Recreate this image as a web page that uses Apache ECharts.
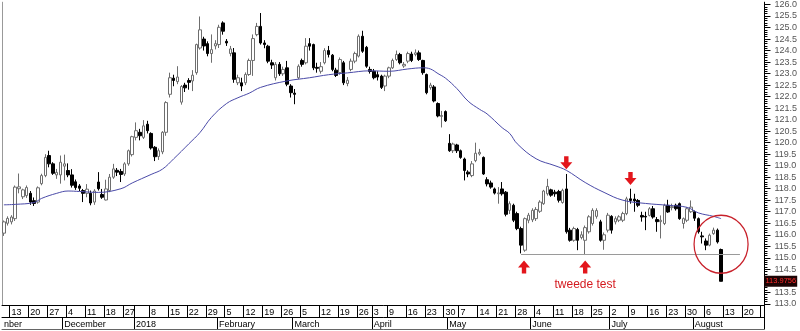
<!DOCTYPE html>
<html><head><meta charset="utf-8">
<script src="https://cdn.jsdelivr.net/npm/echarts@6/dist/echarts.min.js"></script>
<style>html,body{margin:0;padding:0;background:#fff}#c{width:800px;height:331px}</style>
</head><body><div id="c"></div>
<script>
// ---- data ----
const startDate = '2017-11-09';
const endDate = '2018-08-27';
const holidays = ['2017-12-25','2017-12-26','2018-01-01','2018-03-30','2018-04-02','2018-05-01'];
const monthNames = ['January','February','March','April','May','June','July','August','September','October','November','December'];

const opens = [116.07,116.50,116.56,116.70,118.00,117.65,117.70,117.80,117.48,117.42,118.22,118.57,119.44,119.08,118.60,118.60,118.98,118.79,118.60,118.30,118.12,117.92,117.80,117.80,117.42,118.29,117.75,117.51,117.92,118.50,118.80,118.75,118.64,119.08,119.48,120.23,120.45,120.23,120.80,120.40,119.80,119.40,119.60,120.45,122.10,122.80,122.65,121.76,122.50,122.70,122.68,123.04,124.11,124.50,124.30,123.87,124.20,124.26,125.20,124.40,123.87,123.90,122.60,122.60,122.60,122.96,123.57,124.69,125.05,124.33,124.19,123.47,122.82,123.40,122.99,123.25,122.46,122.15,122.82,123.57,123.47,124.30,124.26,123.27,123.10,123.47,124.00,123.80,123.15,123.04,123.47,122.57,123.18,123.54,123.76,124.62,124.14,123.18,123.10,122.95,122.89,122.46,122.89,123.25,123.61,123.83,123.33,123.54,123.85,123.83,123.90,123.57,122.96,122.39,122.42,121.70,121.14,121.35,119.97,119.65,119.90,119.65,119.29,118.72,118.57,119.22,119.51,119.36,118.39,118.25,117.99,117.78,117.99,117.85,117.06,117.28,116.92,116.27,115.33,116.63,116.65,116.70,117.02,117.35,117.78,117.95,117.85,117.88,117.40,117.99,116.20,115.76,116.23,115.88,115.76,116.13,116.49,116.80,116.56,115.76,116.20,116.80,116.56,116.63,116.63,116.92,117.56,117.55,117.49,116.84,116.80,116.84,117.13,116.66,116.57,116.49,117.28,117.18,117.28,117.35,116.49,116.63,117.00,117.00,116.70,115.95,115.73,115.55,116.05,116.20,115.36];
const closes = [116.56,116.71,116.77,118.07,118.08,117.95,118.05,117.42,117.36,118.04,118.57,119.36,119.08,118.67,118.71,119.15,119.08,118.60,118.15,118.05,118.02,117.80,117.98,117.38,117.90,118.00,117.63,117.99,118.50,118.86,118.72,118.62,119.08,119.65,120.26,120.52,120.30,120.73,120.52,119.77,119.39,119.65,120.45,121.74,122.82,122.70,122.85,122.44,122.38,122.62,122.93,124.26,124.90,124.20,123.87,124.04,124.30,125.01,124.84,124.33,124.07,122.75,122.82,122.46,122.96,123.57,124.52,125.05,124.33,124.26,123.54,123.37,123.40,122.99,123.18,122.54,122.17,122.10,123.32,123.40,124.19,124.19,123.25,123.23,123.30,124.00,123.83,123.18,122.92,123.61,122.60,122.71,123.54,123.87,124.62,123.97,123.32,123.09,122.82,122.85,122.40,122.89,123.25,123.57,123.83,123.47,123.40,123.87,123.57,123.90,123.61,123.04,122.17,122.50,121.81,121.16,121.18,120.95,119.65,119.94,119.65,119.36,118.79,118.64,119.08,119.54,119.58,118.64,118.21,118.07,117.81,117.82,117.78,116.89,117.35,116.63,116.27,115.55,116.70,116.85,117.06,117.10,117.42,117.90,118.10,117.72,117.78,117.50,117.93,116.13,115.76,116.27,115.76,116.00,116.31,116.78,117.06,117.05,115.76,116.00,116.85,116.20,116.70,116.78,116.92,117.56,117.49,117.47,117.28,116.77,116.77,117.13,116.77,116.57,116.63,117.28,116.99,117.22,117.13,116.70,116.70,117.13,117.20,116.72,116.13,115.91,115.55,115.98,116.20,115.69,113.98];
const lows = [115.95,116.40,116.45,116.60,117.80,117.55,117.60,117.30,117.25,117.35,118.15,118.50,118.93,118.60,118.43,118.22,118.36,118.50,118.05,117.95,117.90,117.42,117.63,117.28,117.30,117.92,117.56,117.49,117.85,118.43,118.55,118.29,118.55,119.00,119.40,120.10,120.10,120.16,120.40,119.70,119.20,119.25,119.50,120.30,121.96,122.45,122.54,121.65,122.20,122.30,122.24,122.95,124.04,124.00,123.75,123.47,124.05,124.11,124.69,124.20,123.75,122.60,122.50,122.24,122.50,122.90,122.90,124.62,124.26,124.10,123.45,123.20,122.70,122.90,122.90,122.45,121.96,121.67,122.75,123.30,123.40,124.00,123.15,123.04,123.00,123.40,123.70,123.10,122.85,122.95,122.50,122.45,123.10,123.45,123.70,123.90,123.25,123.00,122.75,122.70,122.33,122.24,122.80,123.20,123.55,123.40,123.25,123.45,123.50,123.75,123.55,122.95,122.10,122.30,121.75,121.10,120.66,120.90,119.60,119.55,119.55,119.30,118.36,118.50,118.50,119.15,119.44,118.60,118.10,118.00,117.75,117.35,117.70,116.80,116.90,116.55,116.20,115.19,115.26,116.50,116.55,116.60,116.95,117.30,117.70,117.65,117.65,117.40,117.35,116.05,115.70,115.70,115.33,115.80,115.12,116.05,116.40,116.70,115.70,115.35,116.10,116.05,116.45,116.55,116.55,116.85,117.35,117.00,117.20,116.57,116.20,116.80,116.70,116.13,115.84,116.42,116.95,117.06,117.05,116.65,116.27,116.55,116.95,116.60,116.05,115.62,115.33,115.50,116.00,115.62,113.98];
const highs = [116.62,116.80,116.85,118.14,118.66,118.00,118.14,117.90,117.62,118.10,118.65,119.50,119.65,119.15,118.86,119.44,119.48,119.10,118.85,118.40,118.20,117.99,118.20,117.92,117.98,118.72,117.99,118.39,118.64,119.08,118.90,118.86,119.15,119.70,120.30,120.88,120.60,120.98,120.95,120.45,119.85,119.75,120.50,121.80,123.04,122.95,123.32,122.50,122.60,122.80,123.15,124.30,125.48,124.60,124.40,124.70,124.45,125.12,125.27,124.50,124.20,124.11,122.95,122.82,123.05,123.65,124.70,125.20,125.63,124.45,124.25,123.60,123.50,123.50,123.30,123.55,122.54,122.33,123.40,123.65,124.54,124.54,124.30,123.47,123.50,124.10,124.20,123.85,123.25,123.70,123.55,122.85,123.65,123.95,124.70,124.86,124.20,123.30,123.20,123.10,122.95,122.95,123.30,123.65,124.00,123.90,123.50,123.95,123.95,124.05,124.00,123.60,123.00,122.60,122.50,121.75,121.38,121.40,120.37,120.00,119.95,119.70,119.35,118.80,119.20,120.00,119.73,119.40,118.50,118.35,118.05,118.07,118.29,117.90,117.45,117.35,117.00,116.35,116.75,116.95,117.15,117.20,117.50,117.95,118.43,118.00,117.95,117.95,118.00,118.64,116.30,116.35,116.30,116.15,116.40,116.85,117.15,117.15,116.65,116.10,116.95,116.85,116.80,116.85,117.00,117.65,118.00,117.78,117.55,117.00,117.00,117.20,117.25,116.77,116.84,117.35,117.52,117.35,117.35,117.40,116.75,117.20,117.49,117.05,116.75,116.13,115.84,116.05,116.31,116.27,115.40];

const maDates = ['2017-11-09','2017-11-14','2017-11-21','2017-11-23','2017-11-29','2017-12-04','2017-12-07','2017-12-14','2017-12-22','2017-12-29','2018-01-08','2018-01-11','2018-01-16','2018-01-22','2018-01-25','2018-01-30','2018-02-05','2018-02-08','2018-02-13','2018-02-16','2018-02-27','2018-03-07','2018-03-14','2018-03-21','2018-03-29','2018-04-09','2018-04-16','2018-04-20','2018-04-24','2018-04-26','2018-04-30','2018-05-04','2018-05-09','2018-05-14','2018-05-16','2018-05-22','2018-05-24','2018-05-28','2018-06-04','2018-06-11','2018-06-14','2018-06-21','2018-06-28','2018-07-05','2018-07-13','2018-07-23','2018-07-30','2018-08-02','2018-08-08','2018-08-10'];
const maValues = [117.30,117.32,117.40,117.58,117.80,117.90,117.88,117.84,118.00,118.25,118.62,118.85,119.30,119.95,120.45,121.10,121.70,121.95,122.15,122.40,122.68,122.82,122.95,123.03,123.12,123.10,123.20,123.25,123.20,123.00,122.80,122.35,121.80,121.45,121.25,120.65,120.40,119.95,119.30,119.00,118.80,118.27,117.84,117.50,117.36,117.28,117.19,116.95,116.80,116.70];

const yTickLabels = [113.0,113.5,114.5,115.0,115.5,116.0,116.5,117.0,117.5,118.0,118.5,119.0,119.5,120.0,120.5,121.0,121.5,122.0,122.5,123.0,123.5,124.0,124.5,125.0,125.5,126.0];
const yMajorTicks = [113.0,113.5,114.0,114.5,115.0,115.5,116.0,116.5,117.0,117.5,118.0,118.5,119.0,119.5,120.0,120.5,121.0,121.5,122.0,122.5,123.0,123.5,124.0,124.5,125.0,125.5,126.0];
const lastPrice = 113.9756;
const supportLevel = 115.17;
const supportFrom = '2018-05-29', supportTo = '2018-08-17';
const upArrows = [['2018-05-29', 114.6], ['2018-06-21', 114.6]];
const downArrows = [['2018-06-14', 119.13], ['2018-07-09', 118.44]];
const circleAt = ['2018-08-10', 115.59];
const noteText = 'tweede test';

// ---- build categories ----
const dates = [];
(function(){
  let d = new Date(startDate + 'T00:00:00Z');
  const e = new Date(endDate + 'T00:00:00Z');
  while (d <= e) {
    const wd = d.getUTCDay();
    const s = d.toISOString().slice(0,10);
    if (wd !== 0 && wd !== 6 && holidays.indexOf(s) < 0) dates.push(s);
    d = new Date(d.getTime() + 86400000);
  }
})();
const dObj = dates.map(s => new Date(s + 'T00:00:00Z'));
const lastIdx = dates.length - 1;
function isWeekStart(i){ return i > 0 && dObj[i].getUTCDay() <= dObj[i-1].getUTCDay(); }
function isMonthStart(i){ return i > 0 && dObj[i].getUTCMonth() !== dObj[i-1].getUTCMonth(); }
function isYearStart(i){ return i > 0 && dObj[i].getUTCFullYear() !== dObj[i-1].getUTCFullYear(); }
function showWeekLabel(i){ return isWeekStart(i) && !isYearStart(i) && i !== lastIdx; }
function monthLabel(i){
  if (i === 0) return 'nber';
  const m = dObj[i].getUTCMonth();
  return m === 0 ? String(dObj[i].getUTCFullYear()) : monthNames[m];
}
const idx = {}; dates.forEach((s,i)=> idx[s]=i);

const candleData = opens.map((o,i)=>[o, closes[i], lows[i], highs[i]]);
const maData = maDates.map((d,i)=>[d, maValues[i]]);

const yMinor = [];
for (let k = 1130; k <= 1260; k++) { if (k % 5 !== 0) yMinor.push(k/10); }

const FONT = 'Liberation Sans, Arial, sans-serif';
const upPath = 'path://M6,0 L12,7 L8.2,7 L8.2,13 L3.8,13 L3.8,7 L0,7 Z';
const downPath = 'path://M3.8,0 L8.2,0 L8.2,6 L12,6 L6,13 L0,6 L3.8,6 Z';
const RED = '#e3161c';

const chart = echarts.init(document.getElementById('c'), null, {renderer:'canvas'});
chart.setOption({
  animation: false,
  backgroundColor: '#ffffff',
  grid: { left: 2, right: 32.5, top: 0, bottom: 26, containLabel: false },
  xAxis: [
    { type:'category', data: dates, boundaryGap: true, position:'bottom',
      axisLine:{ show:true, onZero:false, lineStyle:{ color:'#000', width:1 } },
      axisTick:{ show:true, interval:(i)=>isWeekStart(i), length:12, lineStyle:{ color:'#000', width:1 } },
      axisLabel:{ show:true, interval:(i)=>showWeekLabel(i), formatter:(v)=> String(new Date(v+'T00:00:00Z').getUTCDate()),
        align:'left', verticalAlign:'top', margin:3, fontSize:9, color:'#000', fontFamily:FONT },
      splitLine:{ show:false } },
    { type:'category', data: dates, boundaryGap: true, position:'bottom', offset:12,
      axisLine:{ show:true, onZero:false, lineStyle:{ color:'#000', width:1 } },
      axisTick:{ show:true, interval:(i)=>isMonthStart(i), length:12, lineStyle:{ color:'#000', width:1 } },
      axisLabel:{ show:true, interval:(i)=> i===0 || isMonthStart(i), formatter:(v)=> monthLabel(idx[v]),
        align:'left', verticalAlign:'top', margin:3, fontSize:9, color:'#000', fontFamily:FONT },
      splitLine:{ show:false } },
    { type:'category', data: dates, boundaryGap: true, position:'bottom', offset:24,
      axisLine:{ show:true, onZero:false, lineStyle:{ color:'#666', width:1 } },
      axisTick:{ show:false }, axisLabel:{ show:false }, splitLine:{ show:false } }
  ],
  yAxis: [
    { type:'value', position:'right', min:112.95, max:126.1, scale:true,
      axisLine:{ show:true, lineStyle:{ color:'#000', width:1 } },
      axisTick:{ show:true, customValues: yMajorTicks, length:6, lineStyle:{ color:'#000' } },
      axisLabel:{ show:true, customValues: yTickLabels, formatter:(v)=> Number(v).toFixed(1),
        margin:10, fontSize:9, color:'#555', fontFamily:FONT },
      splitLine:{ show:false } },
    { type:'value', position:'right', min:112.95, max:126.1, scale:true,
      axisLine:{ show:false },
      axisTick:{ show:true, customValues: yMinor, length:3, lineStyle:{ color:'#000' } },
      axisLabel:{ show:false }, splitLine:{ show:false } },
    { type:'value', position:'left', min:112.95, max:126.1, scale:true,
      axisLine:{ show:true, lineStyle:{ color:'#999', width:1 } },
      axisTick:{ show:false }, axisLabel:{ show:false }, splitLine:{ show:false } }
  ],
  series: [
    { type:'candlestick', name:'koers', xAxisIndex:0, yAxisIndex:0, data: candleData,
      barWidth: 3,
      itemStyle:{ color:'#ffffff', color0:'#000000', borderColor:'#6e6e6e', borderColor0:'#000000', borderWidth:1 },
      markLine:{ silent:true, symbol:['none','none'], animation:false,
        data:[
          [ { coord:[supportFrom, supportLevel], lineStyle:{ color:'#9a9a9a', width:1, type:'solid' }, label:{show:false} },
            { coord:[supportTo, supportLevel] } ],
          { yAxis: lastPrice, lineStyle:{ color:'rgba(0,0,0,0)', width:1, type:'solid' },
            label:{ show:true, position:'end', distance:0, formatter: String(lastPrice), color:'#ff2a2a',
              backgroundColor:'#1c0404', fontSize:7.5, fontFamily:FONT, padding:[2,1,1,1] } }
        ] },
      markPoint:{ silent:true, animation:false,
        data:[
          { coord: upArrows[0], symbol: upPath, symbolSize:[12,13], symbolOffset:[3,0], itemStyle:{ color:RED }, label:{show:false} },
          { coord: upArrows[1], symbol: upPath, symbolSize:[12,13], itemStyle:{ color:RED },
            label:{ show:true, position:'bottom', distance:5, formatter: noteText, color:'#d41a1f', fontSize:12, fontFamily:FONT } },
          { coord: downArrows[0], symbol: downPath, symbolSize:[12,13], itemStyle:{ color:RED }, label:{show:false} },
          { coord: downArrows[1], symbol: downPath, symbolSize:[12,13], itemStyle:{ color:RED }, label:{show:false} },
          { coord: circleAt, symbol:'circle', symbolSize:[54,58], itemStyle:{ color:'rgba(0,0,0,0)', borderColor:'#c8202a', borderWidth:1.3 }, label:{show:false} }
        ] }
    },
    { type:'line', name:'MA', xAxisIndex:0, yAxisIndex:0, data: maData, smooth:0.4, showSymbol:false,
      lineStyle:{ color:'#4a4aa8', width:1 }, z:3 }
  ]
});
</script>
</body></html>
